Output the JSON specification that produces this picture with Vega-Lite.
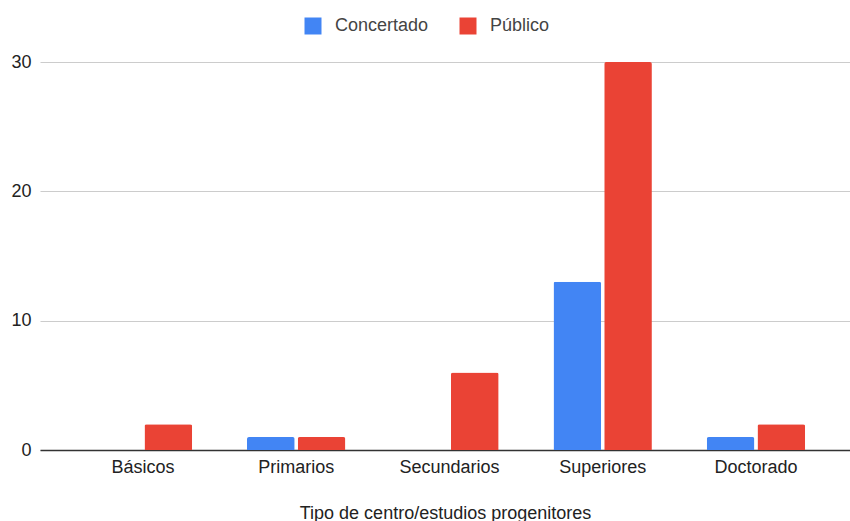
{
  "$schema": "https://vega.github.io/schema/vega-lite/v6.json",
  "autosize": "none",
  "width": 810,
  "height": 388,
  "padding": {"left": 40, "top": 62, "right": 0, "bottom": 71},
  "background": "white",
  "data": {
    "values": [
      {"categoria": "Básicos", "tipo": "Concertado", "valor": 0},
      {"categoria": "Básicos", "tipo": "Público", "valor": 2},
      {"categoria": "Primarios", "tipo": "Concertado", "valor": 1},
      {"categoria": "Primarios", "tipo": "Público", "valor": 1},
      {"categoria": "Secundarios", "tipo": "Concertado", "valor": 0},
      {"categoria": "Secundarios", "tipo": "Público", "valor": 6},
      {"categoria": "Superiores", "tipo": "Concertado", "valor": 13},
      {"categoria": "Superiores", "tipo": "Público", "valor": 30},
      {"categoria": "Doctorado", "tipo": "Concertado", "valor": 1},
      {"categoria": "Doctorado", "tipo": "Público", "valor": 2}
    ]
  },
  "mark": {"type": "bar", "cornerRadiusTopLeft": 2, "cornerRadiusTopRight": 2},
  "encoding": {
    "x": {
      "field": "categoria",
      "type": "nominal",
      "sort": ["Básicos", "Primarios", "Secundarios", "Superiores", "Doctorado"],
      "scale": {"paddingInner": 0.358, "paddingOuter": 0.3218, "align": 0.545},
      "axis": {
        "title": "Tipo de centro/estudios progenitores",
        "labelAngle": 0,
        "labelFont": "Liberation Sans",
        "labelFontSize": 18,
        "labelColor": "#222222",
        "labelPadding": 8,
        "ticks": false,
        "domainColor": "#333333",
        "domainWidth": 1.5,
        "titleFont": "Liberation Sans",
        "titleFontSize": 18,
        "titleFontWeight": "normal",
        "titleColor": "#222222",
        "titlePadding": 28,
        "titleAnchor": "middle"
      }
    },
    "xOffset": {
      "field": "tipo",
      "type": "nominal",
      "scale": {"paddingInner": 0.06, "paddingOuter": 0}
    },
    "y": {
      "field": "valor",
      "type": "quantitative",
      "scale": {"domain": [0, 30], "nice": false},
      "axis": {
        "title": null,
        "values": [0, 10, 20, 30],
        "domain": false,
        "ticks": false,
        "gridColor": "#cccccc",
        "gridWidth": 1,
        "labelFont": "Liberation Sans",
        "labelFontSize": 18,
        "labelColor": "#222222",
        "labelPadding": 9
      }
    },
    "color": {
      "field": "tipo",
      "type": "nominal",
      "scale": {"domain": ["Concertado", "Público"], "range": ["#4285F4", "#EA4335"]},
      "legend": {
        "title": null,
        "orient": "none",
        "direction": "horizontal",
        "legendX": 264,
        "legendY": -45,
        "symbolType": "square",
        "symbolSize": 289,
        "symbolStrokeWidth": 0,
        "symbolOpacity": 1,
        "labelFont": "Liberation Sans",
        "labelFontSize": 18,
        "labelColor": "#444444",
        "labelOffset": 13,
        "columnPadding": 30
      }
    }
  },
  "config": {"view": {"stroke": null}}
}
